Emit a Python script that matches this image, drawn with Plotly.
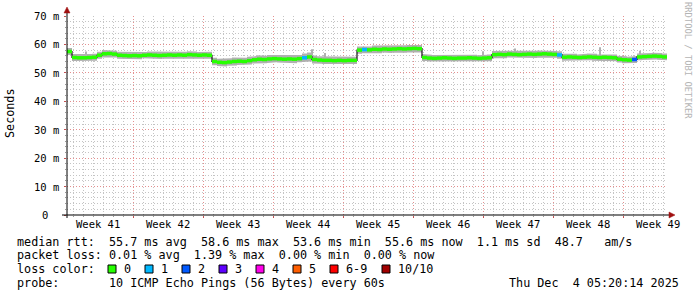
import plotly.graph_objects as go

# ---------------- data ----------------
# median RTT (ms) per half-day step, 120 steps over the 60-day window
median_ms = [
    57.5, 55.4, 55.3, 55.3, 55.4, 55.5, 56.2, 56.7, 56.8, 56.6,
    56.2, 56.1, 56.0, 56.1, 56.0, 56.2, 56.3, 56.2, 56.1, 56.2,
    56.3, 56.2, 56.3, 56.2, 56.4, 56.3, 56.2, 56.3, 56.2, 54.0,
    53.7, 53.6, 53.8, 54.0, 54.1, 54.0, 54.3, 54.6, 54.8, 54.7,
    54.9, 55.0, 54.9, 54.8, 54.9, 54.8, 55.0, 55.3, 55.6, 54.7,
    54.5, 54.4, 54.4, 54.3, 54.4, 54.3, 54.4, 54.4, 58.0, 58.2,
    58.1, 58.3, 58.2, 58.4, 58.3, 58.4, 58.5, 58.4, 58.5, 58.6,
    58.5, 55.4, 55.2, 55.1, 55.2, 55.3, 55.2, 55.1, 55.2, 55.2,
    55.3, 55.2, 55.1, 55.2, 55.3, 56.4, 56.5, 56.4, 56.6, 56.5,
    56.4, 56.5, 56.6, 56.5, 56.6, 56.7, 56.6, 56.5, 56.3, 55.5,
    55.6, 55.5, 55.4, 55.5, 55.6, 55.5, 55.4, 55.5, 55.4, 55.3,
    54.8, 54.6, 54.5, 54.7, 55.6, 55.7, 55.8, 55.9, 55.8, 55.6,
]
# smoke half-spread (ms) around the median per step
smoke_spread_ms = [
    1.2, 1.2, 1.2, 1.1, 1.2, 1.2, 1.2, 1.3, 1.2, 1.2,
    1.2, 1.1, 1.2, 1.2, 1.2, 1.1, 1.2, 1.2, 1.2, 1.2,
    1.2, 1.1, 1.2, 1.2, 1.2, 1.2, 1.1, 1.2, 1.2, 1.3,
    1.3, 1.4, 1.3, 1.4, 1.3, 1.3, 1.4, 1.3, 1.4, 1.3,
    1.4, 1.3, 1.3, 1.4, 1.3, 1.4, 1.3, 1.5, 1.6, 1.4,
    1.3, 1.3, 1.4, 1.3, 1.3, 1.4, 1.3, 1.3, 1.3, 1.3,
    1.2, 1.3, 1.3, 1.2, 1.3, 1.3, 1.2, 1.3, 1.3, 1.2,
    1.3, 1.2, 1.2, 1.2, 1.1, 1.2, 1.2, 1.2, 1.1, 1.2,
    1.2, 1.2, 1.1, 1.2, 1.2, 1.3, 1.2, 1.3, 1.2, 1.3,
    1.2, 1.3, 1.2, 1.3, 1.3, 1.2, 1.3, 1.2, 1.3, 1.2,
    1.2, 1.2, 1.1, 1.2, 1.2, 1.2, 1.1, 1.2, 1.2, 1.2,
    1.2, 1.2, 1.2, 1.2, 1.2, 1.2, 1.2, 1.2, 1.2, 1.2,
]
# steps with packet loss (index into median_ms) and lost pings out of 10
loss_step_index = [47, 59, 98, 113]
loss_step_count = [1, 1, 1, 2]
# single high pings sticking out of the smoke
spike_day = [1.9, 24.5, 25.8, 41.6, 44.8, 53.3, 57.3]
spike_top_ms = [57.5, 58.3, 57.0, 57.6, 58.6, 59.0, 57.8]

step_days = 0.5
span_days = 60
first_week_line = 6.6        # day offset of the first week boundary in view
week_labels = ["Week 41", "Week 42", "Week 43", "Week 44", "Week 45",
               "Week 46", "Week 47", "Week 48", "Week 49"]
y_tick_values = [0, 10, 20, 30, 40, 50, 60, 70]
y_tick_labels = ["0", "10 m", "20 m", "30 m", "40 m", "50 m", "60 m", "70 m"]
loss_legend_labels = ["0", "1", "2", "3", "4", "5", "6-9", "10/10"]
loss_legend_colors = ["#26ff00", "#00b8ff", "#0059ff", "#5e00ff",
                      "#ff00ea", "#ff5e00", "#ff0000", "#a10000"]
stats_line = "median rtt:  55.7 ms avg  58.6 ms max  53.6 ms min  55.6 ms now  1.1 ms sd  48.7   am/s"
loss_line = "packet loss: 0.01 % avg  1.39 % max  0.00 % min  0.00 % now"
loss_title = "loss color:"
probe_line = "probe:       10 ICMP Echo Pings (56 Bytes) every 60s"
stamp = "Thu Dec  4 05:20:14 2025"
y_title = "Seconds"
watermark = "RRDTOOL / TOBI OETIKER"

# ---------------- layout geometry (pixels) ----------------
W, H = 697, 297
L, R, T, B = 67, 667, 16, 215
MONO = "DejaVu Sans Mono"
SMOKE = "#b0b0b0"


def ax(px):
    return (px - L) / (R - L)


def ay(py):
    return (B - py) / (B - T)


def nb(s):
    return s.replace(" ", "\u00a0")


def color_for(count):
    if count >= 10:
        return loss_legend_colors[7]
    if count >= 6:
        return loss_legend_colors[6]
    return loss_legend_colors[count]


n = len(median_ms)
loss_of = [0] * n
for idx, c in zip(loss_step_index, loss_step_count):
    loss_of[idx] = c

fig = go.Figure()

# spikes (thin bars) – drawn in the bar layer, below the scatter layer
spike_base = [median_ms[int(d / step_days)] for d in spike_day]
fig.add_trace(go.Bar(x=spike_day, base=spike_base,
                     y=[t - b for t, b in zip(spike_top_ms, spike_base)],
                     width=0.12, marker=dict(color=SMOKE, line=dict(width=0)),
                     hoverinfo="skip"))

# smoke band as a stepped polygon
up_x, up_y, lo_x, lo_y = [], [], [], []
for i in range(n):
    x0, x1 = i * step_days, (i + 1) * step_days
    up_x += [x0, x1]
    up_y += [median_ms[i] + smoke_spread_ms[i]] * 2
    lo_x += [x0, x1]
    lo_y += [median_ms[i] - smoke_spread_ms[i]] * 2
fig.add_trace(go.Scatter(x=up_x + lo_x[::-1], y=up_y + lo_y[::-1], mode="lines",
                         fill="toself", fillcolor=SMOKE, line=dict(width=0),
                         hoverinfo="skip"))

# thin dark median line (visible at the jumps)
fig.add_trace(go.Scatter(x=[i * step_days for i in range(n)] + [span_days],
                         y=median_ms + [median_ms[-1]], mode="lines",
                         line=dict(color="#101010", width=1.2, shape="hv"),
                         hoverinfo="skip"))

# loss coloured median segments
groups = {}
for i in range(n):
    col = color_for(loss_of[i])
    gx, gy = groups.setdefault(col, ([], []))
    gx += [i * step_days, (i + 1) * step_days, None]
    gy += [median_ms[i], median_ms[i], None]
for col, (gx, gy) in groups.items():
    fig.add_trace(go.Scatter(x=gx, y=gy, mode="lines",
                             line=dict(color=col, width=3.5), hoverinfo="skip"))

week_lines = [first_week_line + 7 * k for k in range(8)]
annotations = []
shapes = []

# week labels (centred in each week)
for k, lab in enumerate(week_labels):
    d = first_week_line - 3.5 + 7 * k
    annotations.append(dict(x=d, xref="x", y=ay(224), yref="paper", text=nb(lab),
                            showarrow=False, xanchor="center", yanchor="middle",
                            font=dict(family=MONO, size=10.5, color="#000")))
# y labels
for v, lab in zip(y_tick_values, y_tick_labels):
    if v == 0:
        annotations.append(dict(x=ax(45), xref="paper", y=v, yref="y", text=lab,
                                showarrow=False, xanchor="center", yanchor="middle",
                                font=dict(family=MONO, size=10.5, color="#000")))
    else:
        annotations.append(dict(x=ax(61), xref="paper", y=v, yref="y", text=nb(lab),
                                showarrow=False, xanchor="right", yanchor="middle",
                                font=dict(family=MONO, size=10.5, color="#000")))

legend_font = dict(family=MONO, size=11.75, color="#000")
rows_y = [241.5, 255.0, 268.7, 282.5]
annotations.append(dict(x=ax(15), xref="paper", y=ay(rows_y[0]), yref="paper",
                        text=nb(stats_line), showarrow=False, xanchor="left",
                        yanchor="middle", font=legend_font))
annotations.append(dict(x=ax(15), xref="paper", y=ay(rows_y[1]), yref="paper",
                        text=nb(loss_line), showarrow=False, xanchor="left",
                        yanchor="middle", font=legend_font))
annotations.append(dict(x=ax(15), xref="paper", y=ay(rows_y[2]), yref="paper",
                        text=nb(loss_title), showarrow=False, xanchor="left",
                        yanchor="middle", font=legend_font))
box_x = [108, 145, 182, 219, 256, 293, 330, 382]
for bx, lab, col in zip(box_x, loss_legend_labels, loss_legend_colors):
    shapes.append(dict(type="rect", xref="paper", yref="paper",
                       x0=ax(bx), x1=ax(bx + 8), y0=ay(273), y1=ay(265),
                       fillcolor=col, line=dict(color="#000", width=1)))
    annotations.append(dict(x=ax(bx + 14), xref="paper", y=ay(rows_y[2]), yref="paper",
                            text=lab, showarrow=False, xanchor="left",
                            yanchor="middle", font=legend_font))
annotations.append(dict(x=ax(15), xref="paper", y=ay(rows_y[3]), yref="paper",
                        text=nb(probe_line), showarrow=False, xanchor="left",
                        yanchor="middle", font=legend_font))
annotations.append(dict(x=ax(681), xref="paper", y=ay(rows_y[3]), yref="paper",
                        text=nb(stamp), showarrow=False, xanchor="right",
                        yanchor="middle", font=legend_font))
annotations.append(dict(x=ax(10), xref="paper", y=ay(113), yref="paper",
                        text=y_title, showarrow=False, textangle=-90,
                        xanchor="center", yanchor="middle", font=legend_font))
annotations.append(dict(x=ax(688), xref="paper", y=ay(60), yref="paper",
                        text=nb(watermark), showarrow=False, textangle=90,
                        xanchor="center", yanchor="middle",
                        font=dict(family=MONO, size=8.8, color="#b4b4b4")))

# axes lines and arrows
shapes.append(dict(type="line", xref="paper", yref="paper", x0=ax(62), x1=ax(670),
                   y0=ay(215), y1=ay(215), line=dict(color="#000", width=1)))
shapes.append(dict(type="line", xref="paper", yref="paper", x0=ax(67), x1=ax(67),
                   y0=ay(218), y1=ay(11), line=dict(color="#000", width=1)))
xa, ya = ax, ay
shapes.append(dict(type="path", xref="paper", yref="paper",
                   path=f"M {xa(669)} {ya(212)} L {xa(675)} {ya(215)} L {xa(669)} {ya(218)} Z",
                   fillcolor="#a01010", line=dict(color="#a01010", width=0.5)))
shapes.append(dict(type="path", xref="paper", yref="paper",
                   path=f"M {xa(64)} {ya(13)} L {xa(67)} {ya(7)} L {xa(70)} {ya(13)} Z",
                   fillcolor="#a01010", line=dict(color="#a01010", width=0.5)))

MAJOR = "#e49090"
MINOR = "#c4c4c4"
fig.update_layout(
    width=W, height=H, autosize=False,
    margin=dict(l=L, r=W - R, t=T, b=H - B, pad=0),
    paper_bgcolor="#ffffff", plot_bgcolor="#ffffff",
    showlegend=False, barmode="overlay",
    annotations=annotations, shapes=shapes,
    xaxis=dict(range=[0, span_days], tickmode="array", tickvals=week_lines,
               showticklabels=False, showgrid=True, gridcolor=MAJOR, gridwidth=1,
               griddash="1px,2px", zeroline=False, showline=False,
               ticks="outside", ticklen=2, tickcolor="#c05050",
               minor=dict(tickmode="linear", tick0=0.6, dtick=1, showgrid=True,
                          gridcolor=MINOR, griddash="1px,2px", ticks="outside",
                          ticklen=1, tickcolor="#999")),
    yaxis=dict(range=[0, 70], tickmode="array", tickvals=y_tick_values,
               showticklabels=False, showgrid=True, gridcolor=MAJOR, gridwidth=1,
               griddash="1px,2px", zeroline=False, showline=False,
               ticks="outside", ticklen=2, tickcolor="#c05050",
               minor=dict(tickmode="linear", tick0=0, dtick=2, showgrid=True,
                          gridcolor=MINOR, griddash="1px,2px", ticks="outside",
                          ticklen=1, tickcolor="#999")),
)

fig.write_html("out.html")
